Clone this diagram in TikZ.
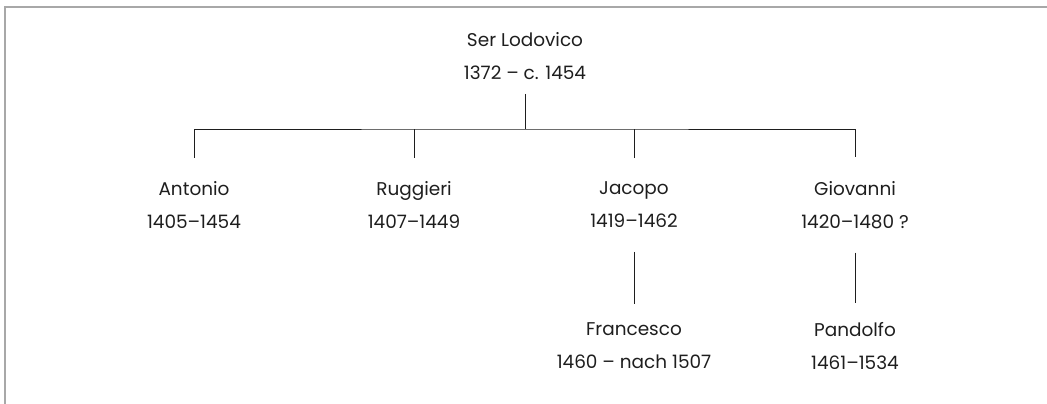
\documentclass[tikz,border=0pt]{standalone}
\usepackage{fontspec}
\setmainfont{Poppins}
\usepackage{tikz}
\usetikzlibrary{positioning}
\definecolor{framegray}{HTML}{A8A8A8}
\definecolor{ink}{HTML}{1E1E1E}

\begin{document}
\begin{tikzpicture}[
        x=0.02cm, y=-0.02cm,
        every node/.style={
            text=ink,
            align=center,
            inner xsep=0pt,
            inner ysep=0.28cm,
            font=\fontsize{10.5}{18.8}\selectfont
        },
        son/.style={
            inner ysep=0.47cm
        },
        grandson/.style={
            inner ysep=0.38cm
        },
        link/.style={
            draw=ink,
            line width=0.55pt
        },
        frame/.style={
            draw=framegray,
            line width=1.1pt
        }
    ]
        \useasboundingbox (0,0) rectangle (1047,404);
        \draw[frame] (1047,7) -- (5,7) -- (5,404);

        % Root
        \node (lodovico) at (525,56) {Ser Lodovico\\1372 -- c. 1454};
        \coordinate (bar) at (525,129);

        % Sons
        \node[son] (antonio) at (194,205) {Antonio\\1405--1454};
        \node[son] (ruggieri) at (414,205) {Ruggieri\\1407--1449};
        \node[son] (jacopo) at (634,205) {Jacopo\\1419--1462};
        \node[son] (giovanni) at (855,205) {Giovanni\\1420--1480 ?};

        % Grandsons
        \node[grandson] (francesco) at (634,346) {Francesco\\1460 -- nach 1507};
        \node[grandson] (pandolfo) at (855,346) {Pandolfo\\1461--1534};

        \draw[link] (lodovico.south) -- (bar);
        \draw[link] (antonio.north) |- (bar) -| (giovanni.north);
        \draw[link] (ruggieri.north) -- (ruggieri.north |- bar);
        \draw[link] (jacopo.north) -- (jacopo.north |- bar);
        \draw[link] (jacopo.south) -- (francesco.north);
        \draw[link] (giovanni.south) -- (pandolfo.north);
    \end{tikzpicture}
\end{document}
